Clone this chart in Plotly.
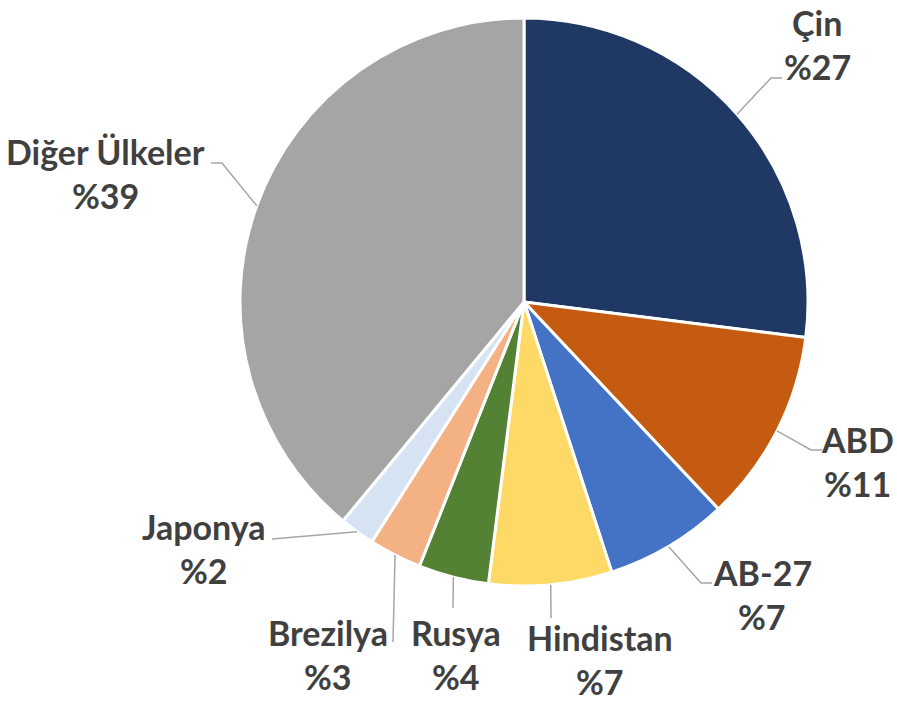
import math
import plotly.graph_objects as go

# ---- data ----
labels = ["Çin", "ABD", "AB-27", "Hindistan", "Rusya", "Brezilya", "Japonya", "Diğer Ülkeler"]
values = [27, 11, 7, 7, 4, 3, 2, 39]
colors = ["#203864", "#C55A11", "#4472C4", "#FFD966", "#548235", "#F4B183", "#D5E3F3", "#A5A5A5"]

# ---- layout helpers (pixel positions in the 897x704 page) ----
W, H = 897, 704
CX, CY, R = 524, 302, 284
label_xy = [(817, 22), (857, 439), (762, 572), (600, 637), (456, 632), (328, 632), (204, 526), (105, 151)]
line_gap = 44
elbow = [[(771, 78), (782, 78)],
         [(811, 450), (822, 450)],
         [(701, 583), (712, 583)],
         [(551, 618)],
         [(453, 608)],
         [(393, 642)],
         [(272, 539)],
         [(222, 163), (211, 163)]]


def px(x):
    return x / W


def py(y):
    return 1 - y / H


fig = go.Figure()
fig.add_trace(go.Pie(
    labels=labels, values=values, sort=False, direction="clockwise", rotation=0,
    marker=dict(colors=colors, line=dict(color="white", width=3)),
    textinfo="none", hoverinfo="label+percent", showlegend=False,
    domain=dict(x=[px(CX - R), px(CX + R)], y=[py(CY + R), py(CY - R)]),
))

total = sum(values)
cum = 0
shapes = []
annotations = []
font = dict(family="Lato, Carlito, Calibri, sans-serif", size=34, color="#404040")
for i, (lab, v) in enumerate(zip(labels, values)):
    mid = (cum + v / 2) / total * 2 * math.pi
    cum += v
    sx = CX + R * math.sin(mid)
    sy = CY - R * math.cos(mid)
    pts = [(sx, sy)] + elbow[i]
    path = "M " + " L ".join(f"{px(x)},{py(y)}" for x, y in pts)
    shapes.append(dict(type="path", path=path, xref="paper", yref="paper",
                       line=dict(color="#A6A6A6", width=1.5)))
    lx, ly = label_xy[i]
    annotations.append(dict(x=px(lx), y=py(ly), xref="paper", yref="paper",
                            text=f"<b>{lab}</b>", showarrow=False, font=font,
                            xanchor="center", yanchor="middle"))
    annotations.append(dict(x=px(lx), y=py(ly + line_gap), xref="paper", yref="paper",
                            text=f"<b>%{v}</b>", showarrow=False, font=font,
                            xanchor="center", yanchor="middle"))

fig.update_layout(width=W, height=H, margin=dict(l=0, r=0, t=0, b=0),
                  paper_bgcolor="white", plot_bgcolor="white",
                  shapes=shapes, annotations=annotations)
fig.write_html("out.html", config={"displayModeBar": False},
               post_script="document.body.style.margin='0';document.body.style.overflow='hidden';")
